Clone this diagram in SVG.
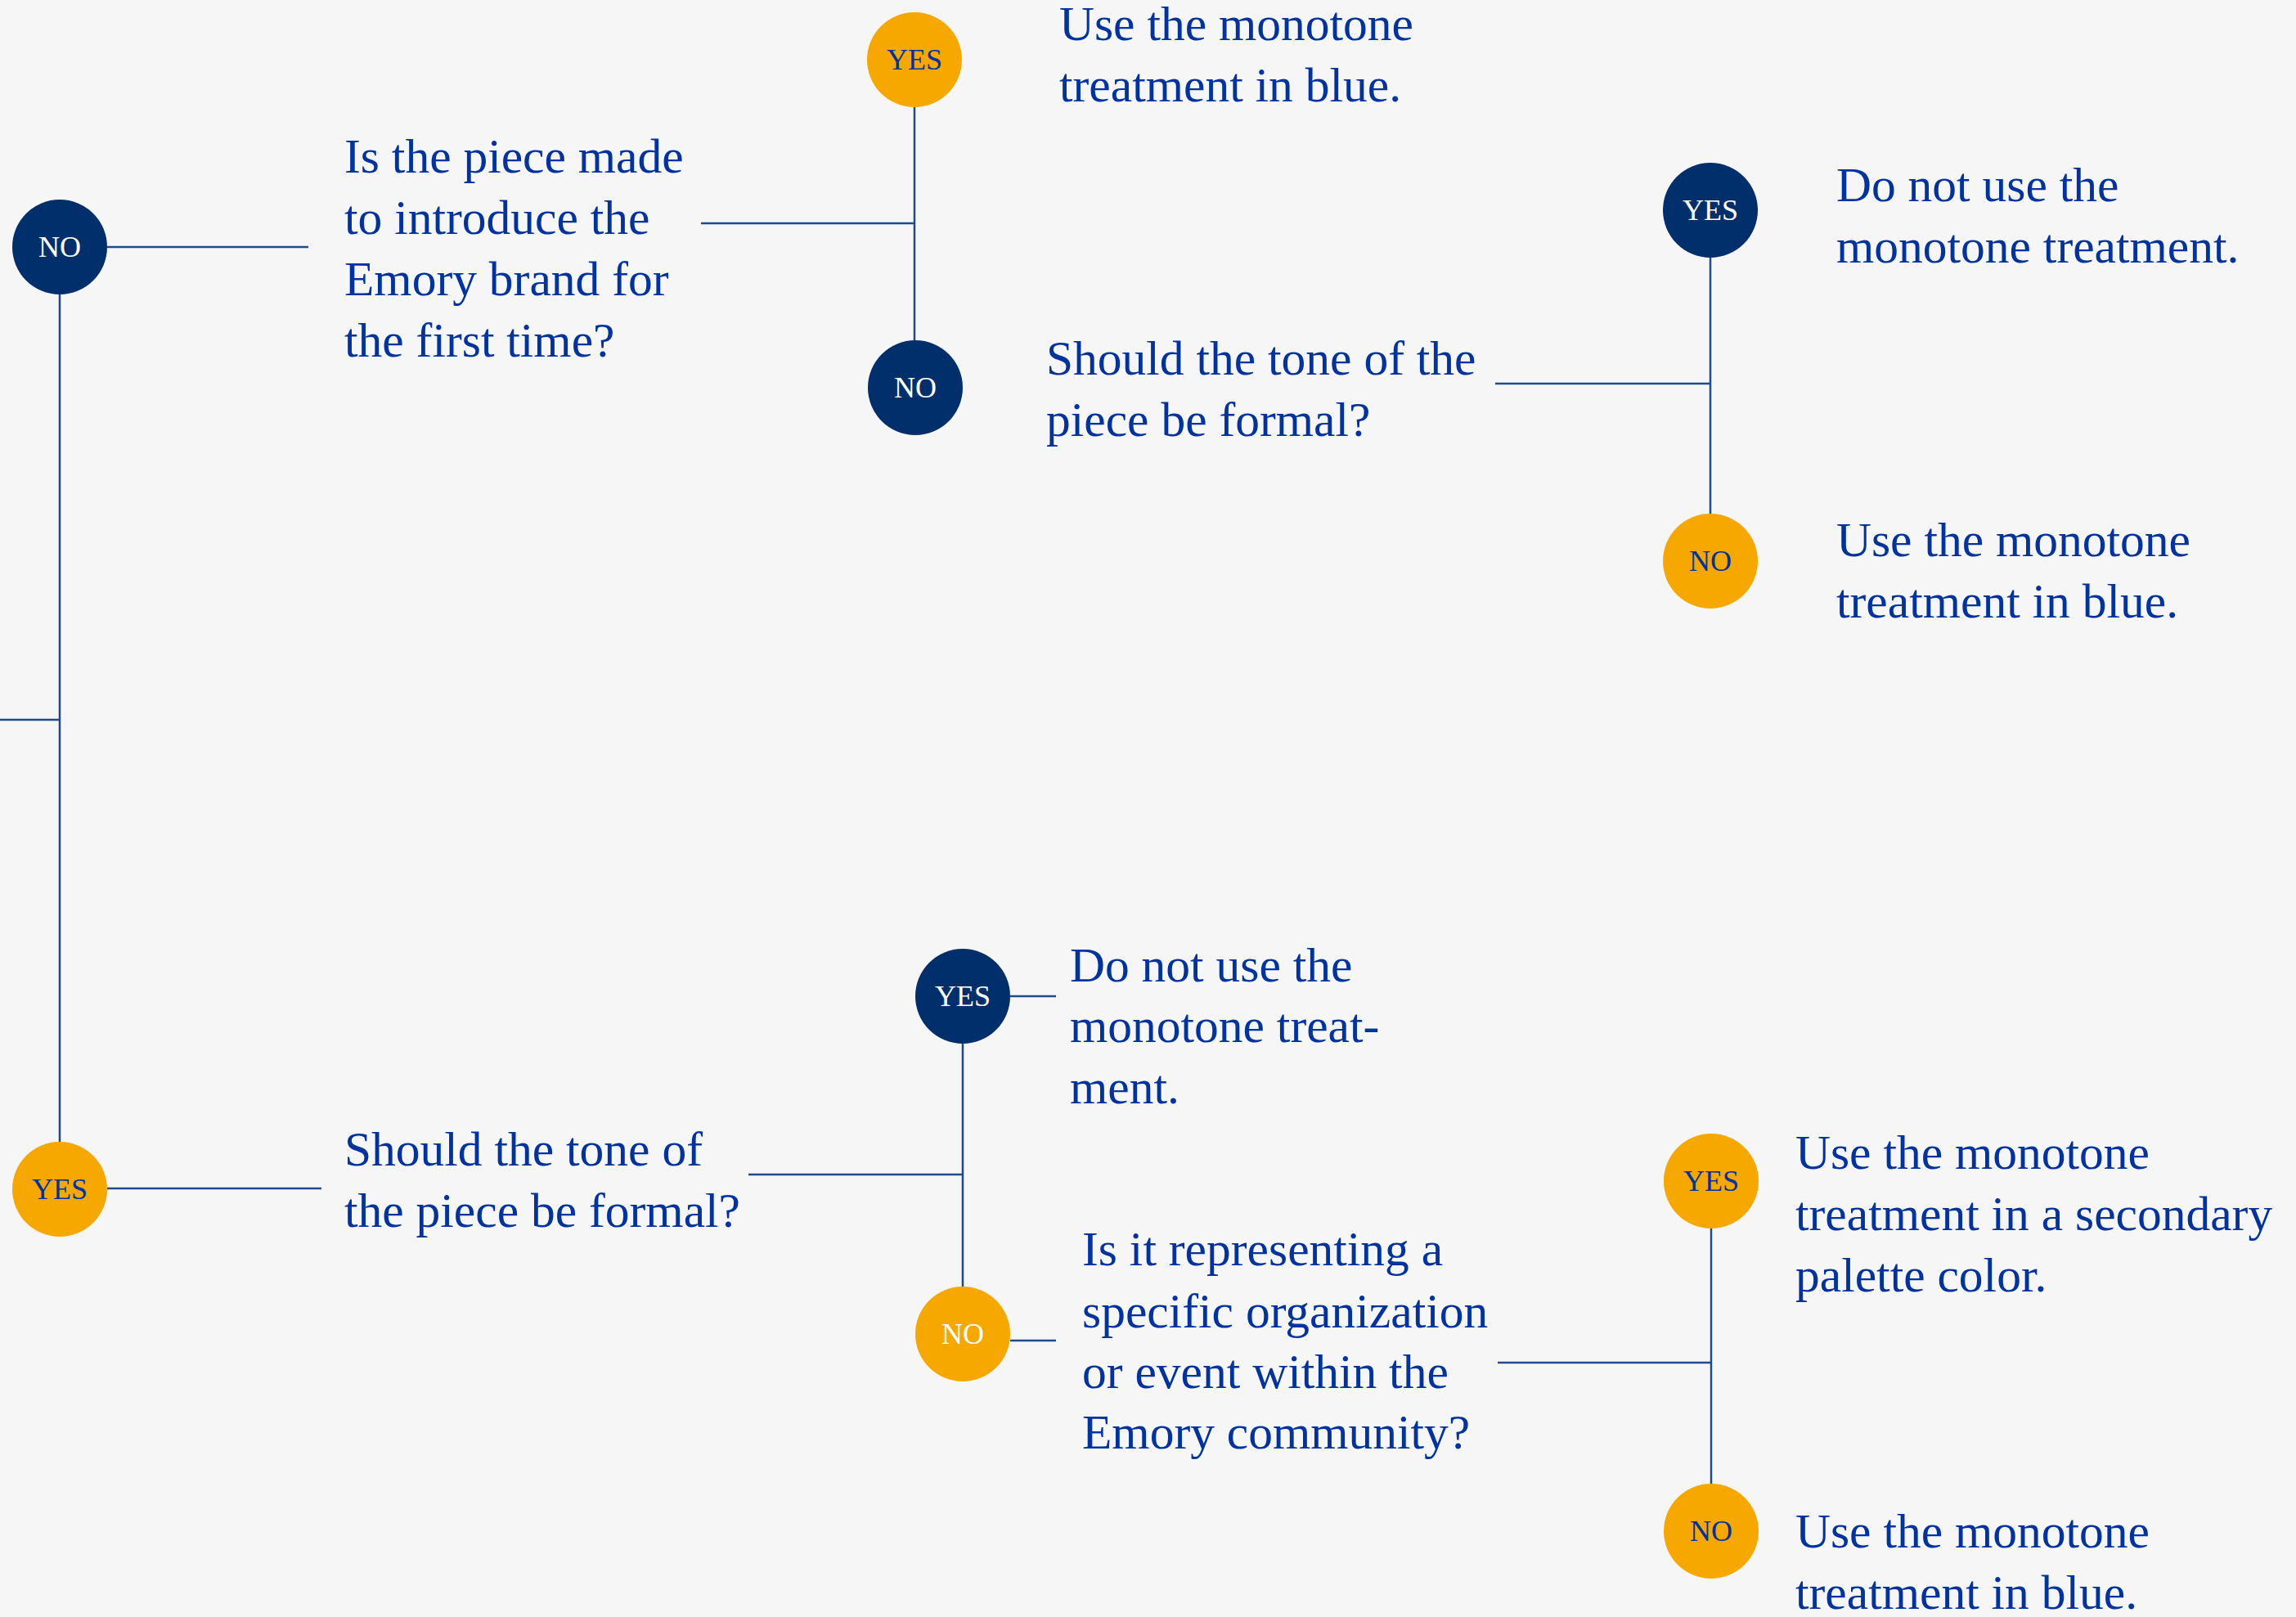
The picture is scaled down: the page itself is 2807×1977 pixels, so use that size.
<svg xmlns="http://www.w3.org/2000/svg" width="2807" height="1977" viewBox="0 0 2807 1977">
  <style>
    .bg { fill: #f6f6f6; }
    .wire { stroke: #1f4a8c; stroke-width: 2.5; fill: none; }
    .navy { fill: #012f6b; }
    .gold { fill: #f6a800; }
    .lbl { font-family: "Liberation Serif", "Times New Roman", serif; font-size: 36px; text-anchor: middle; }
    .lbl-w { fill: #ffffff; }
    .lbl-b { fill: #0033a0; }
    .copy { font-family: "Liberation Serif", "Times New Roman", serif; font-size: 59.5px; fill: #0033a0; }
  </style>
  <rect class="bg" x="0" y="0" width="2807" height="1977"/>

  <!-- connectors -->
  <g id="connectors" class="wire">
    <line x1="0" y1="880" x2="73" y2="880"/>
    <line x1="73" y1="360" x2="73" y2="1396"/>
    <line x1="131" y1="302" x2="377" y2="302"/>
    <line x1="857" y1="273" x2="1118" y2="273"/>
    <line x1="1118" y1="131" x2="1118" y2="416"/>
    <line x1="1828" y1="469" x2="2091" y2="469"/>
    <line x1="2091" y1="315" x2="2091" y2="628"/>
    <line x1="131" y1="1453" x2="393" y2="1453"/>
    <line x1="915" y1="1436" x2="1177" y2="1436"/>
    <line x1="1177" y1="1276" x2="1177" y2="1573"/>
    <line x1="1235" y1="1218" x2="1291" y2="1218"/>
    <line x1="1235" y1="1639" x2="1291" y2="1639"/>
    <line x1="1831" y1="1666" x2="2092" y2="1666"/>
    <line x1="2092" y1="1502" x2="2092" y2="1815"/>
  </g>

  <!-- answer badges -->
  <g id="badge-no-1">
    <circle class="navy" cx="73" cy="302" r="58"/>
    <text class="lbl lbl-w" x="73" y="314">NO</text>
  </g>
  <g id="badge-yes-1">
    <circle class="gold" cx="73" cy="1454" r="58"/>
    <text class="lbl lbl-b" x="73" y="1466">YES</text>
  </g>
  <g id="badge-yes-2">
    <circle class="gold" cx="1118" cy="73" r="58"/>
    <text class="lbl lbl-b" x="1118" y="85">YES</text>
  </g>
  <g id="badge-no-2">
    <circle class="navy" cx="1119" cy="474" r="58"/>
    <text class="lbl lbl-w" x="1119" y="486">NO</text>
  </g>
  <g id="badge-yes-3">
    <circle class="navy" cx="2091" cy="257" r="58"/>
    <text class="lbl lbl-w" x="2091" y="269">YES</text>
  </g>
  <g id="badge-no-3">
    <circle class="gold" cx="2091" cy="686" r="58"/>
    <text class="lbl lbl-b" x="2091" y="698">NO</text>
  </g>
  <g id="badge-yes-4">
    <circle class="navy" cx="1177" cy="1218" r="58"/>
    <text class="lbl lbl-w" x="1177" y="1230">YES</text>
  </g>
  <g id="badge-no-4">
    <circle class="gold" cx="1177" cy="1631" r="58"/>
    <text class="lbl lbl-w" x="1177" y="1643">NO</text>
  </g>
  <g id="badge-yes-5">
    <circle class="gold" cx="2092" cy="1444" r="58"/>
    <text class="lbl lbl-b" x="2092" y="1456">YES</text>
  </g>
  <g id="badge-no-5">
    <circle class="gold" cx="2092" cy="1872" r="58"/>
    <text class="lbl lbl-b" x="2092" y="1884">NO</text>
  </g>

  <!-- questions and outcomes -->
  <g id="q-introduce">
    <text class="copy" x="421" y="211">Is the piece made<tspan x="421" dy="75">to introduce the</tspan><tspan x="421" dy="75">Emory brand for</tspan><tspan x="421" dy="75">the first time?</tspan></text>
  </g>
  <g id="out-blue-1">
    <text class="copy" x="1295" y="49">Use the monotone<tspan x="1295" dy="74.5">treatment in blue.</tspan></text>
  </g>
  <g id="q-formal-1">
    <text class="copy" x="1279" y="458">Should the tone of the<tspan x="1279" dy="75">piece be formal?</tspan></text>
  </g>
  <g id="out-none-1">
    <text class="copy" x="2245" y="246">Do not use the<tspan x="2245" dy="74.5">monotone treatment.</tspan></text>
  </g>
  <g id="out-blue-2">
    <text class="copy" x="2245" y="680">Use the monotone<tspan x="2245" dy="74.5">treatment in blue.</tspan></text>
  </g>
  <g id="q-formal-2">
    <text class="copy" x="421" y="1425">Should the tone of<tspan x="421" dy="75">the piece be formal?</tspan></text>
  </g>
  <g id="out-none-2">
    <text class="copy" x="1308" y="1200">Do not use the<tspan x="1308" dy="74">monotone treat-</tspan><tspan x="1308" dy="74.5">ment.</tspan></text>
  </g>
  <g id="q-organization">
    <text class="copy" x="1323" y="1547">Is it representing a<tspan x="1323" dy="75.5">specific organization</tspan><tspan x="1323" dy="74.5">or event within the</tspan><tspan x="1323" dy="74">Emory community?</tspan></text>
  </g>
  <g id="out-secondary">
    <text class="copy" x="2195" y="1429">Use the monotone<tspan x="2195" dy="74.5">treatment in a secondary</tspan><tspan x="2195" dy="75">palette color.</tspan></text>
  </g>
  <g id="out-blue-3">
    <text class="copy" x="2195" y="1892">Use the monotone<tspan x="2195" dy="75">treatment in blue.</tspan></text>
  </g>
</svg>
